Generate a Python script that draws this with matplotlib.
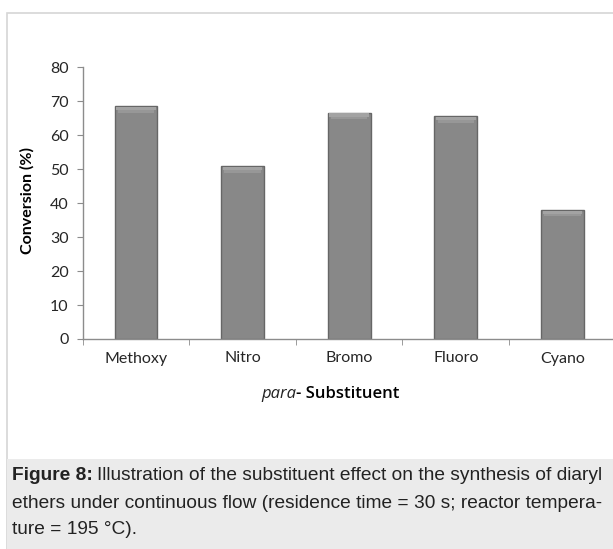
import matplotlib
matplotlib.use("Agg")
import matplotlib.pyplot as plt
from matplotlib.patches import Rectangle
import numpy as np

# data
categories = ["Methoxy", "Nitro", "Bromo", "Fluoro", "Cyano"]
conversion = [68.5, 50.8, 66.6, 65.6, 38.0]
y_ticks = [0, 10, 20, 30, 40, 50, 60, 70, 80]

W, H = 613, 549
fig = plt.figure(figsize=(W / 100, H / 100), dpi=100)
fig.patch.set_facecolor("white")

# outer frame + caption panel
fig.add_artist(Rectangle((7 / W, 0), 1, 1 - 13 / H, transform=fig.transFigure,
                         fill=False, edgecolor="#d6d6d6", linewidth=1.2))
fig.add_artist(Rectangle((7 / W, 0), 1, (H - 459) / H, transform=fig.transFigure,
                         facecolor="#ebebeb", edgecolor="none"))

ax = fig.add_axes([82.7 / W, (H - 339) / H, 533 / W, 271.7 / H])
x = np.arange(len(categories))

ax.bar(x, conversion, width=0.4, color="#888888", edgecolor="#666666",
       linewidth=1.0, zorder=2)
# bevel highlight on top of each bar
vals = np.array(conversion)
ax.bar(x, np.full_like(vals, 0.9), bottom=vals - 1.1, width=0.37,
       color="#a3a3a3", edgecolor="none", zorder=3)
ax.bar(x, np.full_like(vals, 0.8), bottom=vals - 1.9, width=0.34,
       color="#979797", edgecolor="none", zorder=3)

ax.set_xlim(-0.5, len(categories) - 0.5)
ax.set_ylim(0, 80)
ax.set_yticks(y_ticks)
ax.set_xticks(x)
ax.set_xticklabels(categories)
ax.set_xticks(np.arange(len(categories) + 1) - 0.5, minor=True)
ax.tick_params(axis="x", which="major", length=0, pad=9)
ax.tick_params(axis="x", which="minor", length=4, color="#8c8c8c", direction="out")
ax.tick_params(axis="y", length=4, color="#8c8c8c", pad=6)
for lab in ax.get_xticklabels() + ax.get_yticklabels():
    lab.set_fontfamily("Lato")
    lab.set_fontsize(11.5)
    lab.set_color("#262626")

for s in ["top", "right"]:
    ax.spines[s].set_visible(False)
for s in ["left", "bottom"]:
    ax.spines[s].set_color("#8c8c8c")
    ax.spines[s].set_linewidth(1.0)

fig.text(27 / W, 1 - 201 / H, "Conversion (%)", rotation=90, ha="center",
         va="center", fontsize=11.5, fontweight="bold", family="Lato",
         color="black")
fig.text(296 / W, 1 - 394 / H, "para", style="italic", ha="right", va="center",
         fontsize=12, family="Open Sans", color="#222222")
fig.text(296 / W, 1 - 394 / H, "- Substituent", ha="left", va="center",
         fontsize=12, fontweight="semibold", family="Open Sans", color="black")

# caption
cap_font = "Liberation Sans"
cap_size = 13.8
t1 = fig.text(12 / W, 1 - 475 / H, "Figure 8:", ha="left", va="center",
              fontsize=cap_size, fontweight="bold", family=cap_font, color="#222222")
fig.canvas.draw()
bb = t1.get_window_extent(fig.canvas.get_renderer())
fig.text((bb.x1 + 4) / W, 1 - 475 / H,
         "Illustration of the substituent effect on the synthesis of diaryl",
         ha="left", va="center", fontsize=cap_size, family=cap_font, color="#222222")
fig.text(12 / W, 1 - 503 / H,
         "ethers under continuous flow (residence time = 30 s; reactor tempera-",
         ha="left", va="center", fontsize=cap_size, family=cap_font, color="#222222")
fig.text(12 / W, 1 - 530 / H, "ture = 195 °C).",
         ha="left", va="center", fontsize=cap_size, family=cap_font, color="#222222")

fig.savefig("out.png", dpi=100, facecolor="white")
